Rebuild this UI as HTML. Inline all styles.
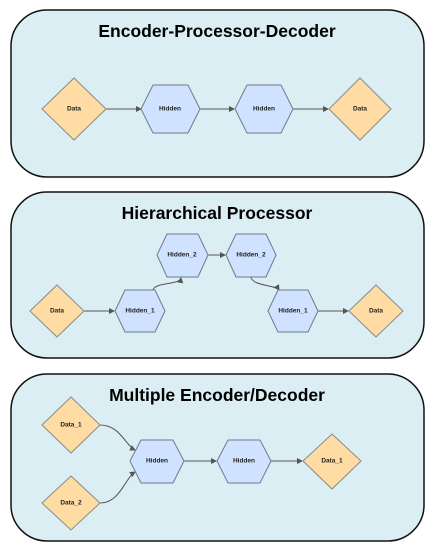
<!DOCTYPE html>
<html><head><meta charset="utf-8"><style>
html,body{margin:0;padding:0;background:#fff;}
svg{display:block;font-family:"Liberation Sans",Arial,sans-serif;}
.panel{fill:#dbeef4;stroke:#111;stroke-width:1.5;}
.title{font-size:17.5px;font-weight:bold;fill:#000;text-anchor:middle;font-family:"Liberation Sans",sans-serif;}
.dia{fill:#ffdca4;stroke:#8a8a8a;stroke-width:1;}
.hex{fill:#cfe2ff;stroke:#6e7b8a;stroke-width:1;}
.lbl{font-size:6.5px;font-weight:bold;fill:#222;text-anchor:middle;dominant-baseline:middle;}
.edge{fill:none;stroke:#555;stroke-width:1;marker-end:url(#arr);}
</style></head><body>
<svg width="434" height="552" viewBox="0 0 434 552">
<defs><marker id="arr" markerWidth="6" markerHeight="6" refX="5" refY="3" orient="auto"><path d="M0,0 L6,3 L0,6 z" fill="#555"/></marker></defs>

<g>
<rect class="panel" x="11" y="10" width="413" height="167" rx="36"/>
<text class="title" x="217" y="37">Encoder-Processor-Decoder</text>
<line class="edge" x1="106" y1="109" x2="141" y2="109"/>
<line class="edge" x1="200" y1="109" x2="234" y2="109"/>
<line class="edge" x1="293" y1="109" x2="328" y2="109"/>
<g><polygon class="dia" points="74,78 106,109 74,140 42,109"/><text class="lbl" x="74" y="109">Data</text></g>
<g><polygon class="hex" points="141,109 153,85 188,85 200,109 188,133 153,133"/><text class="lbl" x="170" y="109">Hidden</text></g>
<g><polygon class="hex" points="235,109 247,85 281,85 293,109 281,133 247,133"/><text class="lbl" x="264" y="109">Hidden</text></g>
<g><polygon class="dia" points="360,78 391,109 360,140 329,109"/><text class="lbl" x="360" y="109">Data</text></g>
</g>

<g>
<rect class="panel" x="11" y="192" width="413" height="166" rx="36"/>
<text class="title" x="217" y="219">Hierarchical Processor</text>
<line class="edge" x1="84" y1="311" x2="114" y2="311"/>
<path class="edge" d="M153,290 C155,282 180,285 181,278"/>
<line class="edge" x1="208" y1="255" x2="225" y2="255"/>
<path class="edge" d="M251,277 C252,286 276,285 279,290"/>
<line class="edge" x1="318" y1="311" x2="348" y2="311"/>
<g><polygon class="dia" points="57,285 84,311 57,337 30,311"/><text class="lbl" x="57" y="311">Data</text></g>
<g><polygon class="hex" points="115,311 125,290 155,290 165,311 155,332 125,332"/><text class="lbl" x="140" y="311">Hidden_1</text></g>
<g><polygon class="hex" points="157,255 167,234 198,234 208,255 198,277 167,277"/><text class="lbl" x="182" y="255">Hidden_2</text></g>
<g><polygon class="hex" points="226,255 236,234 266,234 276,255 266,277 236,277"/><text class="lbl" x="251" y="255">Hidden_2</text></g>
<g><polygon class="hex" points="268,311 278,290 308,290 318,311 308,332 278,332"/><text class="lbl" x="293" y="311">Hidden_1</text></g>
<g><polygon class="dia" points="376,285 403,311 376,337 349,311"/><text class="lbl" x="376" y="311">Data</text></g>
</g>

<g>
<rect class="panel" x="11" y="374" width="413" height="167" rx="36"/>
<text class="title" x="217" y="401">Multiple Encoder/Decoder</text>
<path class="edge" d="M100,425 C120,425 125,445 135,450"/>
<path class="edge" d="M100,503 C120,503 125,478 135,472"/>
<line class="edge" x1="184" y1="461" x2="216" y2="461"/>
<line class="edge" x1="271" y1="461" x2="302" y2="461"/>
<g><polygon class="dia" points="71,397 100,425 71,453 42,425"/><text class="lbl" x="71" y="425">Data_1</text></g>
<g><polygon class="dia" points="71,476 100,503 71,530 42,503"/><text class="lbl" x="71" y="503">Data_2</text></g>
<g><polygon class="hex" points="130,461 141,440 173,440 184,461 173,483 141,483"/><text class="lbl" x="157" y="461">Hidden</text></g>
<g><polygon class="hex" points="217,461 228,440 260,440 271,461 260,483 228,483"/><text class="lbl" x="244" y="461">Hidden</text></g>
<g><polygon class="dia" points="332,434 361,461 332,489 303,461"/><text class="lbl" x="332" y="461">Data_1</text></g>
</g>
</svg>
</body></html>
